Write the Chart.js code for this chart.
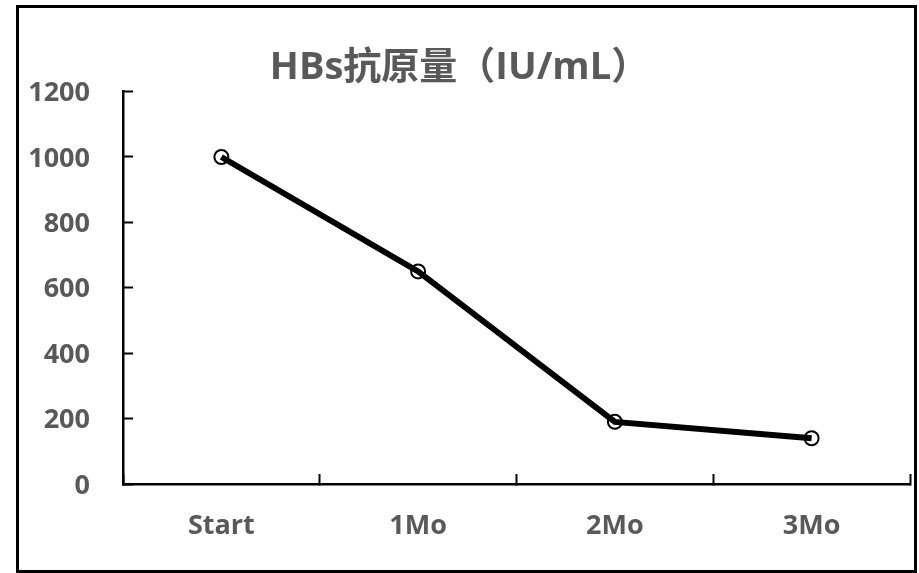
<!DOCTYPE html>
<html>
<head>
<meta charset="utf-8">
<script src="https://cdn.jsdelivr.net/npm/chart.js@4/dist/chart.umd.min.js"></script>
<style>
  html, body { margin: 0; padding: 0; background: #fff; }
  canvas { display: block; }
</style>
</head>
<body>
<canvas id="c" width="919" height="573"></canvas>
<script>
// HBs antigen level over the months of treatment
const categories = ['Start', '1Mo', '2Mo', '3Mo'];
const hbsValues = [1000, 650, 190, 140];
const yTicks = [0, 200, 400, 600, 800, 1000, 1200];

const textGray = '#595959';
const latinFont = '"Open Sans", "Noto Sans CJK SC", sans-serif';

// Outer border around the whole chart
const framePlugin = {
  id: 'frame',
  afterDraw(chart) {
    const ctx = chart.ctx;
    ctx.save();
    ctx.strokeStyle = '#000';
    ctx.lineWidth = 3;
    ctx.strokeRect(17.5, 6.5, 898, 565);
    ctx.restore();
  }
};

new Chart(document.getElementById('c'), {
  type: 'line',
  data: {
    labels: categories,
    datasets: [{
      label: 'HBs',
      data: hbsValues,
      borderColor: '#000',
      borderWidth: 6,
      tension: 0,
      pointRadius: 7,
      pointBorderWidth: 2,
      pointBorderColor: '#000',
      pointBackgroundColor: 'rgba(0,0,0,0)',
      pointHoverRadius: 7
    }]
  },
  options: {
    responsive: false,
    animation: false,
    layout: { padding: { top: 0, left: 0, right: 0, bottom: 0 } },
    plugins: {
      legend: { display: false },
      tooltip: { enabled: false },
      title: {
        display: true,
        text: 'HBs抗原量（IU/mL）',
        color: textGray,
        font: { family: latinFont, size: 38, weight: 'bold' },
        padding: { top: 45, bottom: 1 }
      }
    },
    scales: {
      x: {
        type: 'category',
        offset: true,
        grid: {
          display: true,
          offset: true,
          drawOnChartArea: false,
          drawTicks: true,
          tickLength: -10,
          tickWidth: 2,
          tickColor: '#000',
          color: '#000'
        },
        border: { display: true, color: '#000', width: 2.5 },
        ticks: {
          color: textGray,
          font: { family: latinFont, size: 27, weight: 'bold' },
          padding: 36,
          maxRotation: 0
        },
        afterFit(scale) { scale.height = 89; }
      },
      y: {
        min: 0,
        max: 1200,
        afterBuildTicks(scale) { scale.ticks = yTicks.map(v => ({ value: v })); },
        grid: {
          display: true,
          drawOnChartArea: false,
          drawTicks: true,
          tickLength: -10,
          tickWidth: 2,
          tickColor: '#000',
          color: '#000'
        },
        border: { display: true, color: '#000', width: 2.5 },
        ticks: {
          color: textGray,
          font: { family: latinFont, size: 27, weight: 'bold' },
          padding: 43,
          labelOffset: 2,
          callback: (v) => String(v)
        },
        afterFit(scale) { scale.width = 123; }
      }
    }
  },
  plugins: [framePlugin]
});
</script>
</body>
</html>
